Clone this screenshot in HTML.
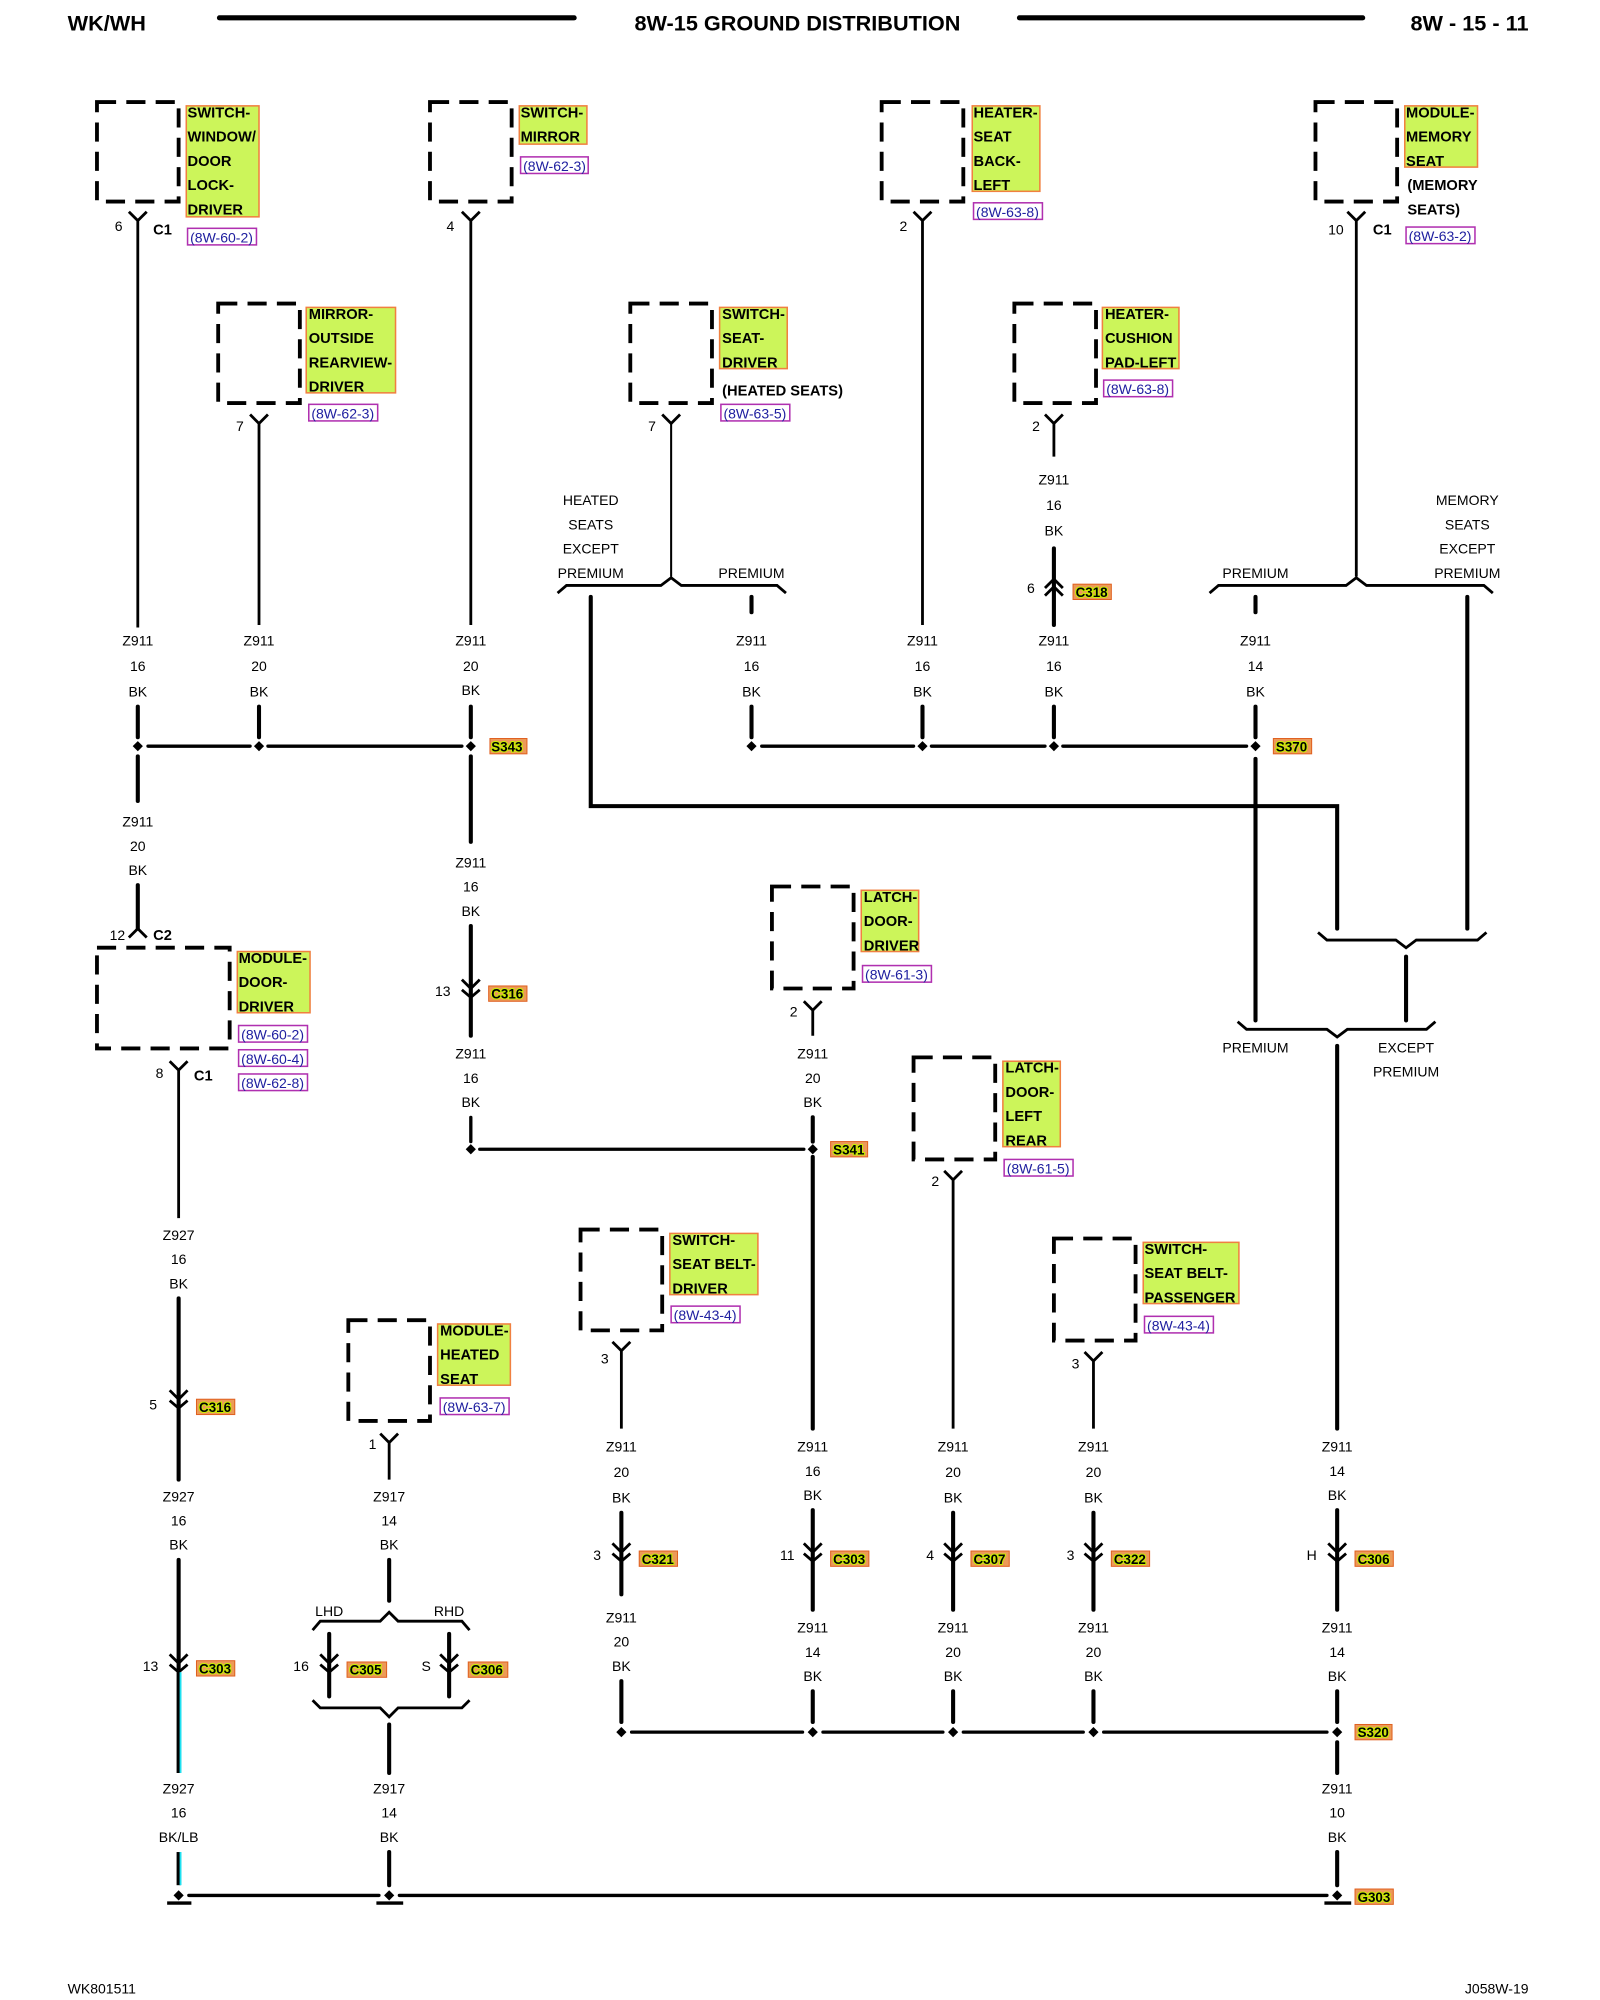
<!DOCTYPE html>
<html><head><meta charset="utf-8"><style>
html,body{margin:0;padding:0;background:#fff}
svg{display:block}
text{font-family:"Liberation Sans",sans-serif;font-size:11px;fill:#000}
.c{text-anchor:middle}
.h{font-weight:bold;font-size:17px}
.b{font-weight:bold;font-size:11.5px}
.r{fill:#2020a0;font-size:11px}
.k{font-weight:bold;font-size:10.5px;fill:#000;stroke:#c8f000;stroke-width:1.6px;paint-order:stroke}
.w{stroke:#000;stroke-width:3.2;fill:none;stroke-linecap:round}
.t{stroke:#000;stroke-width:1.6;fill:none}
.d{stroke:#000;stroke-width:3;fill:none;stroke-dasharray:15 8}
.g{fill:#ccf55a;stroke:#f08040;stroke-width:1.2}
.p{fill:#fff;stroke:#b030b0;stroke-width:1.2}
.o{fill:#ec9a58;stroke:#e06020;stroke-width:.8}
.y{stroke:#000;stroke-width:2.2;fill:none}
</style></head><body>
<svg width="1600" height="2000" viewBox="0 0 1254 1568" preserveAspectRatio="none" xmlns="http://www.w3.org/2000/svg">
<!-- header -->
<text class="h" x="53" y="24">WK/WH</text>
<line class="w" x1="172" y1="14" x2="450" y2="14" style="stroke-width:4"/>
<text class="h c" x="625" y="24">8W-15 GROUND DISTRIBUTION</text>
<line class="w" x1="799" y1="14" x2="1068" y2="14" style="stroke-width:4"/>
<text class="h" x="1198" y="24" text-anchor="end">8W - 15 - 11</text>
<text x="53" y="1563" style="font-size:11px">WK801511</text>
<text x="1198" y="1563" text-anchor="end" style="font-size:11px">J058W-19</text>

<!-- 1 switch window door lock -->
<rect class="d" x="76" y="80" width="64" height="78"/>
<rect class="g" x="146" y="83" width="57" height="87"/>
<text class="b" x="147" y="92">SWITCH-</text><text class="b" x="147" y="111">WINDOW/</text><text class="b" x="147" y="130">DOOR</text><text class="b" x="147" y="149">LOCK-</text><text class="b" x="147" y="168">DRIVER</text>
<rect class="p" x="147" y="179" width="54" height="13"/><text class="r" x="149" y="190">(8W-60-2)</text>
<path class="y" d="M101 166 L108 173 L115 166 M108 173 V492"/><text class="c" x="93" y="181">6</text><text class="b" x="120" y="184">C1</text>

<!-- 2 switch mirror -->
<rect class="d" x="337" y="80" width="64" height="78"/>
<rect class="g" x="407" y="83" width="53" height="30"/>
<text class="b" x="408" y="92">SWITCH-</text><text class="b" x="408" y="111">MIRROR</text>
<rect class="p" x="408" y="123" width="53" height="13"/><text class="r" x="410" y="134">(8W-62-3)</text>
<path class="y" d="M362 166 L369 173 L376 166 M369 173 V490"/><text class="c" x="353" y="181">4</text>

<!-- 3 heater seat back -->
<rect class="d" x="691" y="80" width="64" height="78"/>
<rect class="g" x="762" y="83" width="53" height="67"/>
<text class="b" x="763" y="92">HEATER-</text><text class="b" x="763" y="111">SEAT</text><text class="b" x="763" y="130">BACK-</text><text class="b" x="763" y="149">LEFT</text>
<rect class="p" x="763" y="159" width="54" height="13"/><text class="r" x="765" y="170">(8W-63-8)</text>
<path class="y" d="M716 166 L723 173 L730 166 M723 173 V490"/><text class="c" x="708" y="181">2</text>

<!-- 4 module memory seat -->
<rect class="d" x="1031" y="80" width="64" height="78"/>
<rect class="g" x="1101" y="83" width="57" height="48"/>
<text class="b" x="1102" y="92">MODULE-</text><text class="b" x="1102" y="111">MEMORY</text><text class="b" x="1102" y="130">SEAT</text>
<text class="b" x="1103" y="149">(MEMORY</text><text class="b" x="1103" y="168">SEATS)</text>
<rect class="p" x="1102" y="178" width="54" height="13"/><text class="r" x="1104" y="189">(8W-63-2)</text>
<path class="y" d="M1056 166 L1063 173 L1070 166 M1063 173 V452"/><text class="c" x="1047" y="184">10</text><text class="b" x="1076" y="184">C1</text>

<!-- 5 mirror outside -->
<rect class="d" x="171" y="238" width="64" height="78"/>
<rect class="g" x="240" y="241" width="70" height="67"/>
<text class="b" x="242" y="250">MIRROR-</text><text class="b" x="242" y="269">OUTSIDE</text><text class="b" x="242" y="288">REARVIEW-</text><text class="b" x="242" y="307">DRIVER</text>
<rect class="p" x="242" y="317" width="54" height="13"/><text class="r" x="244" y="328">(8W-62-3)</text>
<path class="y" d="M196 325 L203 332 L210 325 M203 332 V490"/><text class="c" x="188" y="338">7</text>

<!-- 6 switch seat driver -->
<rect class="d" x="494" y="238" width="64" height="78"/>
<rect class="g" x="564" y="241" width="53" height="48"/>
<text class="b" x="566" y="250">SWITCH-</text><text class="b" x="566" y="269">SEAT-</text><text class="b" x="566" y="288">DRIVER</text>
<text class="b" x="566" y="310">(HEATED SEATS)</text>
<rect class="p" x="565" y="317" width="54" height="13"/><text class="r" x="567" y="328">(8W-63-5)</text>
<path class="y" d="M519 325 L526 332 L533 325"/><line class="t" x1="526" y1="332" x2="526" y2="452"/><text class="c" x="511" y="338">7</text>

<!-- 7 heater cushion -->
<rect class="d" x="795" y="238" width="64" height="78"/>
<rect class="g" x="864" y="241" width="60" height="48"/>
<text class="b" x="866" y="250">HEATER-</text><text class="b" x="866" y="269">CUSHION</text><text class="b" x="866" y="288">PAD-LEFT</text>
<rect class="p" x="865" y="298" width="54" height="13"/><text class="r" x="867" y="309">(8W-63-8)</text>
<path class="y" d="M819 325 L826 332 L833 325 M826 332 V358"/><text class="c" x="812" y="338">2</text>
<text class="c" x="826" y="380">Z911</text><text class="c" x="826" y="400">16</text><text class="c" x="826" y="420">BK</text>
<path class="w" d="M826 430 V490"/><path class="y" d="M819 461 L826 454 L833 461 M819 467 L826 460 L833 467"/>
<text class="c" x="808" y="465">6</text><rect class="o" x="841" y="458" width="30" height="12"/><text class="k" x="843" y="468">C318</text>

<!-- brace heated seats -->
<path class="y" d="M437 465 L444 459 H518 L526 453 L534 459 H609 L616 465"/>
<text class="c" x="463" y="396">HEATED</text><text class="c" x="463" y="415">SEATS</text><text class="c" x="463" y="434">EXCEPT</text><text class="c" x="463" y="453">PREMIUM</text>
<text class="c" x="589" y="453">PREMIUM</text>
<path class="w" d="M463 468 V632 H1048 V728"/>
<path class="w" d="M589 468 V480"/>
<!-- brace memory -->
<path class="y" d="M948 465 L955 459 H1055 L1063 453 L1071 459 H1163 L1170 465"/>
<text class="c" x="984" y="453">PREMIUM</text>
<text class="c" x="1150" y="396">MEMORY</text><text class="c" x="1150" y="415">SEATS</text><text class="c" x="1150" y="434">EXCEPT</text><text class="c" x="1150" y="453">PREMIUM</text>
<path class="w" d="M984 468 V480"/><path class="w" d="M1150 468 V728"/>
<path class="y" d="M1033 731 L1040 737 H1094 L1102 743 L1110 737 H1158 L1165 731"/>
<path class="w" d="M1102 750 V800"/>
<path class="y" d="M970 801 L977 807 H1040 L1048 813 L1056 807 H1118 L1125 801"/>
<path class="w" d="M984 595 V800"/>
<text class="c" x="984" y="825">PREMIUM</text><text class="c" x="1102" y="825">EXCEPT</text><text class="c" x="1102" y="844">PREMIUM</text>

<!-- wire labels row 1 -->
<g>
<text class="c" x="108" y="506">Z911</text><text class="c" x="108" y="526">16</text><text class="c" x="108" y="546">BK</text>
<text class="c" x="203" y="506">Z911</text><text class="c" x="203" y="526">20</text><text class="c" x="203" y="546">BK</text>
<text class="c" x="369" y="506">Z911</text><text class="c" x="369" y="526">20</text><text class="c" x="369" y="545">BK</text>
<text class="c" x="589" y="506">Z911</text><text class="c" x="589" y="526">16</text><text class="c" x="589" y="546">BK</text>
<text class="c" x="723" y="506">Z911</text><text class="c" x="723" y="526">16</text><text class="c" x="723" y="546">BK</text>
<text class="c" x="826" y="506">Z911</text><text class="c" x="826" y="526">16</text><text class="c" x="826" y="546">BK</text>
<text class="c" x="984" y="506">Z911</text><text class="c" x="984" y="526">14</text><text class="c" x="984" y="546">BK</text>
</g>
<path class="w" d="M108 554 V578 M203 554 V578 M369 554 V578 M589 554 V578 M723 554 V578 M826 554 V578 M984 554 V578"/>
<path class="w" d="M116 585 H196 M210 585 H362 M597 585 H716 M730 585 H819 M833 585 H977" style="stroke-width:2.6"/>
<g fill="#000"><path d="M108 581 l4 4 l-4 4 l-4 -4z M203 581 l4 4 l-4 4 l-4 -4z M369 581 l4 4 l-4 4 l-4 -4z M589 581 l4 4 l-4 4 l-4 -4z M723 581 l4 4 l-4 4 l-4 -4z M826 581 l4 4 l-4 4 l-4 -4z M984 581 l4 4 l-4 4 l-4 -4z"/></g>
<rect class="o" x="384" y="579" width="29" height="12"/><text class="k" x="385" y="589">S343</text>
<rect class="o" x="998" y="579" width="30" height="12"/><text class="k" x="1000" y="589">S370</text>

<!-- column 108 down -->
<path class="w" d="M108 593 V628"/>
<text class="c" x="108" y="648">Z911</text><text class="c" x="108" y="667">20</text><text class="c" x="108" y="686">BK</text>
<path class="w" d="M108 694 V728"/><path class="y" d="M101 735 L108 728 L115 735"/>
<text class="c" x="92" y="737">12</text><text class="b" x="120" y="737">C2</text>
<rect class="d" x="76" y="743" width="104" height="79"/>
<rect class="g" x="186" y="746" width="57" height="48"/>
<text class="b" x="187" y="755">MODULE-</text><text class="b" x="187" y="774">DOOR-</text><text class="b" x="187" y="793">DRIVER</text>
<rect class="p" x="187" y="804" width="54" height="13"/><text class="r" x="189" y="815">(8W-60-2)</text>
<rect class="p" x="187" y="823" width="54" height="13"/><text class="r" x="189" y="834">(8W-60-4)</text>
<rect class="p" x="187" y="842" width="54" height="13"/><text class="r" x="189" y="853">(8W-62-8)</text>
<path class="y" d="M133 832 L140 839 L147 832 M140 839 V955"/><text class="c" x="125" y="845">8</text><text class="b" x="152" y="847">C1</text>
<text class="c" x="140" y="972">Z927</text><text class="c" x="140" y="991">16</text><text class="c" x="140" y="1010">BK</text>
<path class="w" d="M140 1018 V1160"/><path class="y" d="M133 1090 L140 1097 L147 1090 M133 1098 L140 1104 L147 1098"/>
<text class="c" x="120" y="1105">5</text><rect class="o" x="154" y="1097" width="30" height="12"/><text class="k" x="156" y="1107">C316</text>
<text class="c" x="140" y="1177">Z927</text><text class="c" x="140" y="1196">16</text><text class="c" x="140" y="1215">BK</text>
<path class="w" d="M140 1223 V1308"/><path class="y" d="M133 1297 L140 1304 L147 1297 M133 1305 L140 1311 L147 1305"/>
<path d="M140 1311 V1390" stroke="#000" stroke-width="3.2"/><path d="M141.5 1311 V1390" stroke="#20e0f0" stroke-width="1.5"/>
<text class="c" x="118" y="1310">13</text><rect class="o" x="154" y="1302" width="30" height="12"/><text class="k" x="156" y="1312">C303</text>
<text class="c" x="140" y="1406">Z927</text><text class="c" x="140" y="1425">16</text><text class="c" x="140" y="1444">BK/LB</text>
<path d="M140 1452 V1478" stroke="#000" stroke-width="3.2"/><path d="M141.5 1452 V1478" stroke="#20e0f0" stroke-width="1.5"/>

<!-- column 369 down -->
<path class="w" d="M369 593 V660"/>
<text class="c" x="369" y="680">Z911</text><text class="c" x="369" y="699">16</text><text class="c" x="369" y="718">BK</text>
<path class="w" d="M369 726 V812"/><path class="y" d="M362 768 L369 775 L376 768 M362 776 L369 782 L376 776"/>
<text class="c" x="347" y="781">13</text><rect class="o" x="383" y="773" width="30" height="12"/><text class="k" x="385" y="783">C316</text>
<text class="c" x="369" y="830">Z911</text><text class="c" x="369" y="849">16</text><text class="c" x="369" y="868">BK</text>
<path class="w" d="M369 876 V895 M376 901 H630" style="stroke-width:2.6"/>
<path d="M369 897 l4 4 l-4 4 l-4 -4z M637 897 l4 4 l-4 4 l-4 -4z" fill="#000"/>
<rect class="o" x="651" y="895" width="29" height="12"/><text class="k" x="653" y="905">S341</text>

<!-- latch door driver -->
<rect class="d" x="605" y="695" width="64" height="80"/>
<rect class="g" x="675" y="698" width="45" height="48"/>
<text class="b" x="677" y="707">LATCH-</text><text class="b" x="677" y="726">DOOR-</text><text class="b" x="677" y="745">DRIVER</text>
<rect class="p" x="676" y="757" width="54" height="13"/><text class="r" x="678" y="768">(8W-61-3)</text>
<path class="y" d="M630 785 L637 792 L644 785 M637 792 V812"/><text class="c" x="622" y="797">2</text>
<text class="c" x="637" y="830">Z911</text><text class="c" x="637" y="849">20</text><text class="c" x="637" y="868">BK</text>
<path class="w" d="M637 876 V895 M637 907 V1120"/>

<!-- latch door left rear -->
<rect class="d" x="716" y="829" width="64" height="80"/>
<rect class="g" x="786" y="832" width="45" height="67"/>
<text class="b" x="788" y="841">LATCH-</text><text class="b" x="788" y="860">DOOR-</text><text class="b" x="788" y="879">LEFT</text><text class="b" x="788" y="898">REAR</text>
<rect class="p" x="787" y="909" width="54" height="13"/><text class="r" x="789" y="920">(8W-61-5)</text>
<path class="y" d="M740 918 L747 925 L754 918 M747 925 V1120"/><text class="c" x="733" y="930">2</text>

<!-- switch seat belt driver -->
<rect class="d" x="455" y="964" width="64" height="79"/>
<rect class="g" x="525" y="967" width="69" height="48"/>
<text class="b" x="527" y="976">SWITCH-</text><text class="b" x="527" y="995">SEAT BELT-</text><text class="b" x="527" y="1014">DRIVER</text>
<rect class="p" x="526" y="1024" width="54" height="13"/><text class="r" x="528" y="1035">(8W-43-4)</text>
<path class="y" d="M480 1052 L487 1059 L494 1052 M487 1059 V1120"/><text class="c" x="474" y="1069">3</text>

<!-- switch seat belt passenger -->
<rect class="d" x="826" y="971" width="64" height="80"/>
<rect class="g" x="896" y="974" width="75" height="48"/>
<text class="b" x="897" y="983">SWITCH-</text><text class="b" x="897" y="1002">SEAT BELT-</text><text class="b" x="897" y="1021">PASSENGER</text>
<rect class="p" x="897" y="1032" width="54" height="13"/><text class="r" x="899" y="1043">(8W-43-4)</text>
<path class="y" d="M850 1060 L857 1067 L864 1060 M857 1067 V1120"/><text class="c" x="843" y="1073">3</text>

<!-- column 1048 -->
<path class="w" d="M1048 820 V1120"/>

<!-- row at 1134 labels -->
<text class="c" x="487" y="1138">Z911</text><text class="c" x="487" y="1158">20</text><text class="c" x="487" y="1178">BK</text>
<text class="c" x="637" y="1138">Z911</text><text class="c" x="637" y="1157">16</text><text class="c" x="637" y="1176">BK</text>
<text class="c" x="747" y="1138">Z911</text><text class="c" x="747" y="1158">20</text><text class="c" x="747" y="1178">BK</text>
<text class="c" x="857" y="1138">Z911</text><text class="c" x="857" y="1158">20</text><text class="c" x="857" y="1178">BK</text>
<text class="c" x="1048" y="1138">Z911</text><text class="c" x="1048" y="1157">14</text><text class="c" x="1048" y="1176">BK</text>
<path class="w" d="M487 1186 V1250 M637 1184 V1262 M747 1186 V1262 M857 1186 V1262 M1048 1184 V1262"/>
<path class="y" d="M480 1210 L487 1217 L494 1210 M480 1218 L487 1224 L494 1218 M630 1210 L637 1217 L644 1210 M630 1218 L637 1224 L644 1218 M740 1210 L747 1217 L754 1210 M740 1218 L747 1224 L754 1218 M850 1210 L857 1217 L864 1210 M850 1218 L857 1224 L864 1218 M1041 1210 L1048 1217 L1055 1210 M1041 1218 L1048 1224 L1055 1218"/>
<text class="c" x="468" y="1223">3</text><rect class="o" x="501" y="1216" width="30" height="12"/><text class="k" x="503" y="1226">C321</text>
<text class="c" x="617" y="1223">11</text><rect class="o" x="651" y="1216" width="30" height="12"/><text class="k" x="653" y="1226">C303</text>
<text class="c" x="729" y="1223">4</text><rect class="o" x="761" y="1216" width="30" height="12"/><text class="k" x="763" y="1226">C307</text>
<text class="c" x="839" y="1223">3</text><rect class="o" x="871" y="1216" width="30" height="12"/><text class="k" x="873" y="1226">C322</text>
<text class="c" x="1028" y="1223">H</text><rect class="o" x="1062" y="1216" width="30" height="12"/><text class="k" x="1064" y="1226">C306</text>

<text class="c" x="487" y="1272">Z911</text><text class="c" x="487" y="1291">20</text><text class="c" x="487" y="1310">BK</text>
<text class="c" x="637" y="1280">Z911</text><text class="c" x="637" y="1299">14</text><text class="c" x="637" y="1318">BK</text>
<text class="c" x="747" y="1280">Z911</text><text class="c" x="747" y="1299">20</text><text class="c" x="747" y="1318">BK</text>
<text class="c" x="857" y="1280">Z911</text><text class="c" x="857" y="1299">20</text><text class="c" x="857" y="1318">BK</text>
<text class="c" x="1048" y="1280">Z911</text><text class="c" x="1048" y="1299">14</text><text class="c" x="1048" y="1318">BK</text>
<path class="w" d="M487 1318 V1350 M637 1326 V1350 M747 1326 V1350 M857 1326 V1350 M1048 1326 V1350"/>
<path class="w" d="M495 1358 H629 M645 1358 H739 M755 1358 H849 M865 1358 H1040" style="stroke-width:2.6"/>
<path d="M487 1354 l4 4 l-4 4 l-4 -4z M637 1354 l4 4 l-4 4 l-4 -4z M747 1354 l4 4 l-4 4 l-4 -4z M857 1354 l4 4 l-4 4 l-4 -4z M1048 1354 l4 4 l-4 4 l-4 -4z" fill="#000"/>
<rect class="o" x="1062" y="1352" width="29" height="12"/><text class="k" x="1064" y="1362">S320</text>
<path class="w" d="M1048 1366 V1390"/>
<text class="c" x="1048" y="1406">Z911</text><text class="c" x="1048" y="1425">10</text><text class="c" x="1048" y="1444">BK</text>
<path class="w" d="M1048 1452 V1478"/>

<!-- module heated seat -->
<rect class="d" x="273" y="1035" width="64" height="79"/>
<rect class="g" x="343" y="1038" width="57" height="48"/>
<text class="b" x="345" y="1047">MODULE-</text><text class="b" x="345" y="1066">HEATED</text><text class="b" x="345" y="1085">SEAT</text>
<rect class="p" x="345" y="1096" width="54" height="13"/><text class="r" x="347" y="1107">(8W-63-7)</text>
<path class="y" d="M298 1124 L305 1131 L312 1124 M305 1131 V1160"/><text class="c" x="292" y="1136">1</text>
<text class="c" x="305" y="1177">Z917</text><text class="c" x="305" y="1196">14</text><text class="c" x="305" y="1215">BK</text>
<path class="w" d="M305 1223 V1255"/>
<path class="y" d="M245 1278 L251 1271 H298 L305 1264 L312 1271 H362 L368 1278"/>
<text class="c" x="258" y="1267">LHD</text><text class="c" x="352" y="1267">RHD</text>
<path class="w" d="M258 1281 V1330 M352 1281 V1330"/>
<path class="y" d="M251 1297 L258 1304 L265 1297 M251 1305 L258 1311 L265 1305 M345 1297 L352 1304 L359 1297 M345 1305 L352 1311 L359 1305"/>
<text class="c" x="236" y="1310">16</text><rect class="o" x="272" y="1303" width="31" height="12"/><text class="k" x="274" y="1313">C305</text>
<text class="c" x="334" y="1310">S</text><rect class="o" x="367" y="1303" width="31" height="12"/><text class="k" x="369" y="1313">C306</text>
<path class="y" d="M245 1333 L251 1339 H298 L305 1346 L312 1339 H362 L368 1333"/>
<path class="w" d="M305 1352 V1390"/>
<text class="c" x="305" y="1406">Z917</text><text class="c" x="305" y="1425">14</text><text class="c" x="305" y="1444">BK</text>
<path class="w" d="M305 1452 V1478"/>

<!-- ground bus -->
<path class="w" d="M148 1486 H297 M313 1486 H1040" style="stroke-width:2.6"/>
<path d="M140 1482 l4 4 l-4 4 l-4 -4z M305 1482 l4 4 l-4 4 l-4 -4z M1048 1482 l4 4 l-4 4 l-4 -4z" fill="#000"/>
<path d="M131 1492 H150 M295 1492 H316 M1038 1492 H1059" stroke="#000" stroke-width="2.6"/>
<rect class="o" x="1062" y="1481" width="30" height="12"/><text class="k" x="1064" y="1491">G303</text>
</svg>
</body></html>
